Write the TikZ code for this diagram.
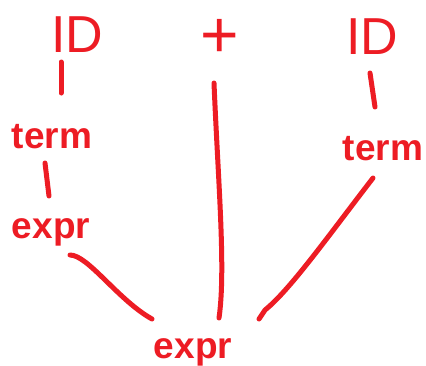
\documentclass[tikz,border=0pt]{standalone}
\usepackage{fontspec}
\setmainfont{Liberation Sans}
\usetikzlibrary{calc}
\definecolor{pen}{RGB}{237,28,36}
\begin{document}
\begin{tikzpicture}[x=1pt,y=-1pt,
  lbl/.style={text=pen,inner sep=0pt,anchor=base},
  big/.style={lbl,font=\fontsize{52}{52}\selectfont},
  mid/.style={lbl,font=\bfseries\fontsize{37}{37}\selectfont},
  edge/.style={draw=pen,line width=5pt,line cap=round,line join=round}]
\useasboundingbox[fill=white] (0,0) rectangle (426,365);
\node[big] (id1) at (77,52) {ID};
\node[lbl,font=\fontsize{66}{66}\selectfont] (plus) at (220,57) {+};
\node[big] (id2) at (372,54) {ID};
\node[mid] (term1) at (52,148) {term};
\node[mid] (term2) at (383,160) {term};
\node[mid] (expr1) at (51,238) {expr};
\node[mid] (expr2) at (193,358) {expr};
\draw[edge] ($(id1.base)+(-16,10)$) -- ($(term1.base)+(9,-55)$);
\draw[edge] ($(term1.base)+(-7,15)$) -- ($(expr1.base)+(-2,-42)$);
\draw[edge] ($(id2.base)+(-2,19)$) -- ($(term2.base)+(-8,-53)$);
\draw[edge] ($(expr1.base)+(19,17)$) .. controls ($(expr1.base)+(37,17)$) and ($(expr2.base)+(-75,-58)$) .. ($(expr2.base)+(-41,-39)$);
\draw[edge] ($(plus.base)+(-6,26)$) .. controls ($(plus.base)+(-2,123)$) and ($(plus.base)+(6,213)$) .. ($(expr2.base)+(26,-40)$);
\draw[edge] ($(term2.base)+(-10,18)$) .. controls ($(term2.base)+(-54,75)$) and ($(expr2.base)+(97,-68)$) .. ($(expr2.base)+(72,-48)$) -- ($(expr2.base)+(66,-39)$);
\end{tikzpicture}
\end{document}
